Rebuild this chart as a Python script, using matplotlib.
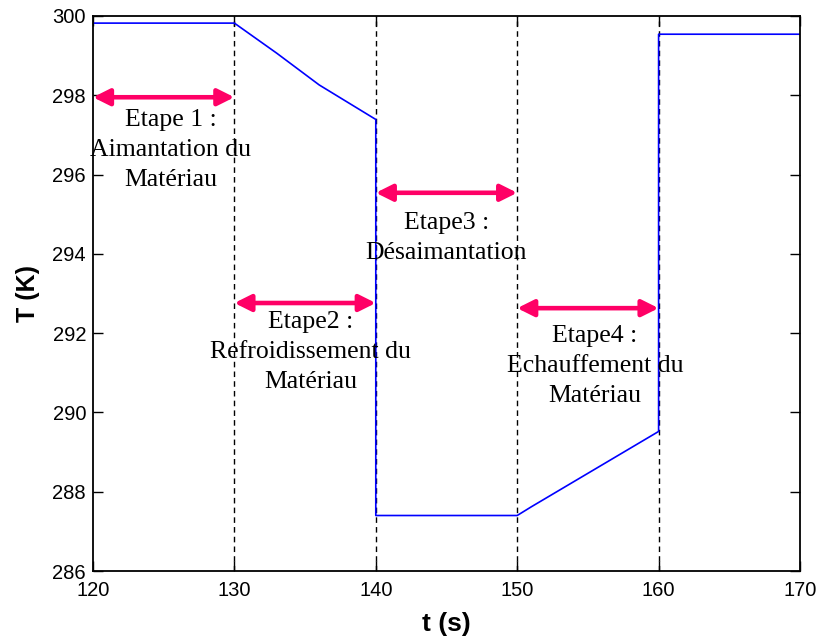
import numpy as np
import matplotlib
matplotlib.use("Agg")
import matplotlib.pyplot as plt

# temperature of the material over one magnetic refrigeration cycle
t = [120, 130, 133, 136, 140, 140, 150, 151, 160, 160, 170]
T = [299.82, 299.82, 299.06, 298.26, 297.39, 287.40, 287.40, 287.62, 289.52, 299.54, 299.54]

# boundaries between the four steps
step_edges = [130, 140, 150, 160]

# double arrows: (start, end, height)
arrow_x0 = [120, 130, 140, 150]
arrow_x1 = [130, 140, 150, 160]
arrow_y = [297.95, 292.76, 295.54, 292.63]

# step labels and their centres
step_labels = ["Etape 1 :\nAimantation du\nMatériau",
               "Etape2 :\nRefroidissement du\nMatériau",
               "Etape3 :\nDésaimantation",
               "Etape4 :\nEchauffement du\nMatériau"]
label_x = [125.5, 135.4, 145.0, 155.5]
label_y = [296.62, 291.52, 294.40, 291.18]

xticks = [120, 130, 140, 150, 160, 170]
yticks = [286, 288, 290, 292, 294, 296, 298, 300]

fig = plt.figure(figsize=(8.17, 6.39), dpi=100)
ax = fig.add_axes([0.1138, 0.1064, 0.8654, 0.8686])

for x in step_edges:
    ax.axvline(x, color="black", lw=1.0, linestyle=(0, (4, 3)), zorder=1)

ax.plot(t, T, color="#0000ff", lw=1.2, zorder=2)

for x0, x1, y in zip(arrow_x0, arrow_x1, arrow_y):
    ax.annotate("", xy=(x1, y), xytext=(x0, y),
                arrowprops=dict(arrowstyle="<|-|>,head_length=0.9,head_width=0.45",
                                color="#ff0066", lw=3.3, shrinkA=0, shrinkB=0,
                                mutation_scale=11),
                zorder=3)

for s, x, y in zip(step_labels, label_x, label_y):
    ax.text(x, y, s, ha="center", va="center", multialignment="center",
            fontsize=18.5, family="Liberation Serif", linespacing=1.47, zorder=4)

ax.set_xlim(120, 170)
ax.set_ylim(286, 300)
ax.set_xticks(xticks)
ax.set_yticks(yticks)
ax.tick_params(direction="in", length=7, width=1, top=True, right=True,
               labelsize=14.5)
ax.tick_params(axis="x", pad=7)
ax.tick_params(axis="y", pad=5)
for lab in ax.get_xticklabels() + ax.get_yticklabels():
    lab.set_family("Liberation Sans")
for sp in ax.spines.values():
    sp.set_linewidth(1.3)

ax.set_xlabel("t (s)", fontsize=19, fontweight="bold", family="Liberation Sans", labelpad=9)
ax.set_ylabel("T (K)", fontsize=18, fontweight="bold", family="Liberation Sans", labelpad=9)

fig.savefig("out.png", dpi=100)
